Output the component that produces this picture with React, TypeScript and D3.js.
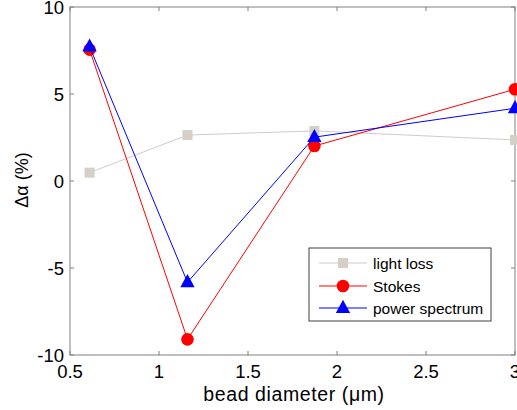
import React from "react";
import * as d3 from "d3";

const xValues = [0.61, 1.16, 1.873, 3.0];
const lightLoss = [0.48, 2.64, 2.88, 2.36];
const stokes = [7.55, -9.1, 2.01, 5.27];
const powerSpectrum = [7.72, -5.82, 2.52, 4.18];
const xTicks = [0.5, 1, 1.5, 2, 2.5, 3];
const yTicks = [-10, -5, 0, 5, 10];
const seriesNames = ["light loss", "Stokes", "power spectrum"];

const W = 517, H = 410;
const L = 70, R = 515, T = 7, B = 355;
const axisColor = "#808080";
const font = "'Liberation Sans', Arial, sans-serif";

export default function App() {
  const x = d3.scaleLinear().domain([0.5, 3]).range([L, R]);
  const y = d3.scaleLinear().domain([-10, 10]).range([B, T]);
  const line = d3.line<number>().x((_, i) => x(xValues[i])).y((d) => y(d));

  const tri = (cx: number, cy: number, s: number) =>
    `M${cx},${cy - s * 0.75}L${cx + s * 0.65},${cy + s * 0.45}L${cx - s * 0.65},${cy + s * 0.45}Z`;

  const legX = 309, legY = 248, legW = 182, legH = 73;
  const rows = [263, 286, 308];

  return (
    <svg width={W} height={H} style={{ position: "absolute", left: 0, top: 0, background: "#fff" }} fontFamily={font}>
      <rect x={0} y={0} width={W} height={H} fill="#fff" />
      <rect x={L} y={T} width={R - L} height={B - T} fill="#fff" stroke={axisColor} strokeWidth={1} />
      {xTicks.map((t) => (
        <g key={"xt" + t}>
          <line x1={x(t)} x2={x(t)} y1={B} y2={B - 4} stroke={axisColor} />
          <line x1={x(t)} x2={x(t)} y1={T} y2={T + 4} stroke={axisColor} />
          <text x={x(t)} y={378} fontSize={18.5} textAnchor="middle" fill="#000">{t}</text>
        </g>
      ))}
      {yTicks.map((t) => (
        <g key={"yt" + t}>
          <line x1={L} x2={L + 4} y1={y(t)} y2={y(t)} stroke={axisColor} />
          <line x1={R} x2={R - 4} y1={y(t)} y2={y(t)} stroke={axisColor} />
          <text x={64} y={y(t) + 6.5} fontSize={18.5} textAnchor="end" fill="#000">{t}</text>
        </g>
      ))}
      <text x={294} y={401} fontSize={19.5} letterSpacing={0.6} textAnchor="middle" fill="#000">bead diameter (μm)</text>
      <text transform={`translate(28,180) rotate(-90)`} fontSize={18} textAnchor="middle" fill="#000">Δα (%)</text>

      <path d={line(lightLoss) ?? ""} fill="none" stroke="#cccccc" strokeWidth={1} />
      {lightLoss.map((v, i) => (
        <rect key={"ll" + i} x={x(xValues[i]) - 5} y={y(v) - 5} width={10} height={10} fill="#d4d0c8" />
      ))}
      <path d={line(stokes) ?? ""} fill="none" stroke="#ff0000" strokeWidth={1} />
      {stokes.map((v, i) => (
        <circle key={"st" + i} cx={x(xValues[i])} cy={y(v)} r={6.3} fill="#ff0000" />
      ))}
      <path d={line(powerSpectrum) ?? ""} fill="none" stroke="#0000ff" strokeWidth={1} />
      {powerSpectrum.map((v, i) => (
        <path key={"ps" + i} d={tri(x(xValues[i]), y(v), 11)} fill="#0000ff" />
      ))}

      <rect x={legX} y={legY} width={legW} height={legH} fill="#fff" stroke="#404040" strokeWidth={1} />
      <line x1={319} x2={367} y1={rows[0]} y2={rows[0]} stroke="#cccccc" />
      <rect x={338} y={rows[0] - 5} width={10} height={10} fill="#d4d0c8" />
      <line x1={319} x2={367} y1={rows[1]} y2={rows[1]} stroke="#ff0000" />
      <circle cx={343} cy={rows[1]} r={6.3} fill="#ff0000" />
      <line x1={319} x2={367} y1={rows[2]} y2={rows[2]} stroke="#0000ff" />
      <path d={tri(343, rows[2], 11)} fill="#0000ff" />
      {seriesNames.map((n, i) => (
        <text key={n} x={373} y={rows[i] + 5.5} fontSize={15.5} fill="#000">{n}</text>
      ))}
    </svg>
  );
}
